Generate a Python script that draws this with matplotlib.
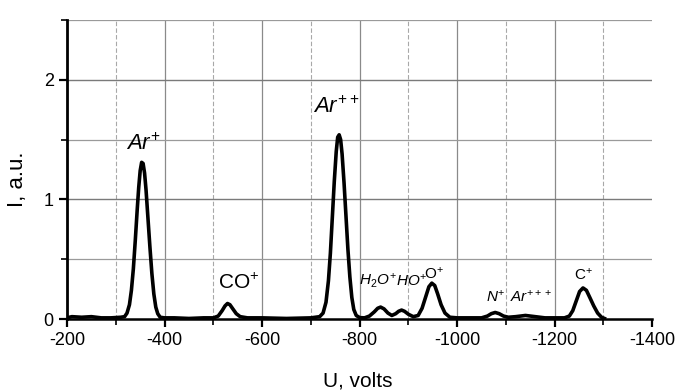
import matplotlib
matplotlib.use("Agg")
import matplotlib.pyplot as plt
from matplotlib.ticker import MultipleLocator

plt.rcParams['font.family'] = ['Liberation Sans', 'DejaVu Sans']
plt.rcParams['mathtext.fontset'] = 'custom'
plt.rcParams['mathtext.rm'] = 'Liberation Sans'
plt.rcParams['mathtext.it'] = 'Liberation Sans:italic'

# Spectrum: retarding voltage U (V) and intensity I (a.u.)
U = [-200, -210, -230, -250, -270, -290, -310, -318, -323, -328, -332, -336,
     -340, -344, -347, -350, -353, -356, -359, -362, -366, -370, -374, -378,
     -382, -386, -391, -400,
     -420, -450, -480, -500, -510, -518, -524, -529, -534, -540, -547, -555,
     -570, -600,
     -650, -700, -718, -725, -731, -736, -740, -744, -748, -752, -755, -758,
     -761, -764, -768, -772, -776, -780, -784, -788, -793, -800,
     -810, -820, -830, -837, -843, -850, -858, -866, -874, -880, -886, -892,
     -900, -910, -920, -928, -935, -942, -948, -954, -960, -967, -975, -985,
     -1000, -1020, -1050, -1062, -1070, -1078, -1086, -1095, -1105, -1120,
     -1140, -1160, -1180, -1200, -1220, -1230, -1237, -1244, -1251, -1258,
     -1265, -1272, -1280, -1288, -1296, -1302]
I = [0.01, 0.02, 0.015, 0.02, 0.01, 0.01, 0.015, 0.02, 0.05, 0.12, 0.24, 0.42,
     0.66, 0.92, 1.10, 1.24, 1.31, 1.30, 1.22, 1.08, 0.84, 0.60, 0.38, 0.21,
     0.10, 0.045, 0.015, 0.01,
     0.01, 0.005, 0.01, 0.01, 0.025, 0.07, 0.11, 0.13, 0.12, 0.085, 0.045, 0.02,
     0.01, 0.01,
     0.005, 0.01, 0.02, 0.05, 0.14, 0.32, 0.55, 0.85, 1.15, 1.40, 1.52, 1.54,
     1.50, 1.38, 1.14, 0.86, 0.58, 0.35, 0.18, 0.08, 0.03, 0.012,
     0.01, 0.025, 0.06, 0.09, 0.10, 0.085, 0.05, 0.03, 0.045, 0.065, 0.075, 0.065,
     0.04, 0.02, 0.03, 0.09, 0.18, 0.27, 0.30, 0.28, 0.21, 0.12, 0.05, 0.015,
     0.01, 0.01, 0.01, 0.025, 0.045, 0.055, 0.045, 0.025, 0.015, 0.02,
     0.03, 0.02, 0.01, 0.01, 0.01, 0.025, 0.07, 0.15, 0.23, 0.26,
     0.24, 0.18, 0.11, 0.05, 0.015, 0.005]

# Peak labels: (text, U, I, fontsize)
labels = [
    (r'$\mathit{Ar}^{+}$', -357, 1.46, 16),
    (r'$\mathit{Ar}^{++}$', -752, 1.77, 16),
    (r'$\mathrm{CO}^{+}$', -553, 0.30, 15),
    (r'$\mathit{H_2O}^{+}$', -838, 0.32, 11),
    (r'$\mathit{HO}^{+}$', -906, 0.32, 11),
    (r'$\mathrm{O}^{+}$', -953, 0.38, 11),
    (r'$\mathit{N}^{+}$', -1080, 0.19, 11),
    (r'$\mathit{Ar}^{+++}$', -1152, 0.19, 11),
    (r'$\mathrm{C}^{+}$', -1258, 0.37, 11),
]

fig = plt.figure(figsize=(6.75, 3.91), dpi=100)
ax = fig.add_axes([0.0993, 0.184, 0.867, 0.765])

ax.plot(U, I, color='black', lw=2.6, solid_joinstyle='round', zorder=3)

ax.set_xlim(-200, -1400)
ax.set_ylim(0, 2.5)
ax.xaxis.set_major_locator(MultipleLocator(200))
ax.xaxis.set_minor_locator(MultipleLocator(100))
ax.yaxis.set_major_locator(MultipleLocator(1))
ax.yaxis.set_minor_locator(MultipleLocator(0.5))
ax.set_xticks([-200, -400, -600, -800, -1000, -1200, -1400])
ax.set_xticklabels(['-200', '-400', '-600', '-800', '-1000', '-1200', '-1400'])

# grid
for x in [-400, -600, -800, -1000, -1200]:
    ax.axvline(x, color='#8a8a8a', lw=0.9, zorder=1)
for x in [-300, -500, -700, -900, -1100, -1300]:
    ax.axvline(x, color='#a8a8a8', lw=0.8, ls=(0, (4, 2)), zorder=1)
for y in [1, 2]:
    ax.axhline(y, color='#7a7a7a', lw=1.0, zorder=1)
for y in [0.5, 1.5, 2.5]:
    ax.axhline(y, color='#9a9a9a', lw=0.9, zorder=1)

for s in ['top', 'right']:
    ax.spines[s].set_visible(False)
ax.spines['left'].set_linewidth(2.0)
ax.spines['bottom'].set_linewidth(1.8)

ax.tick_params(axis='both', which='major', direction='out', length=6, width=1.6,
               labelsize=13, colors='black')
ax.tick_params(axis='both', which='minor', direction='out', length=4, width=1.2)

ax.set_xlabel('U, volts', fontsize=15)
ax.set_ylabel('I, a.u.', fontsize=16)
ax.xaxis.set_label_coords(0.496, -0.175)
ax.yaxis.set_label_coords(-0.067, 0.468)

for txt, x, y, fs in labels:
    ax.text(x, y, txt, fontsize=fs, ha='center', va='center', zorder=4)

fig.savefig('out.png', dpi=100)
